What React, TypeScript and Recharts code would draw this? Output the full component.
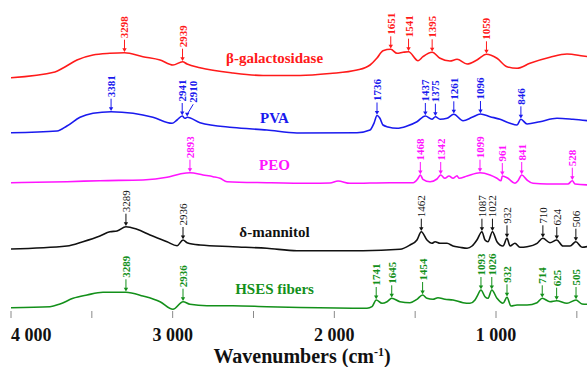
import React from 'react';
import { ComposedChart, Line, Scatter, XAxis, YAxis, ReferenceDot, Label } from 'recharts';

// Wavenumber (cm-1) / relative intensity (a.u.) pairs
const galactosidaseW = [4000, 3728, 3678, 3592, 3493, 3388, 3298, 3184, 3078, 2998, 2939, 2911, 2831, 2627, 2441, 2212, 2027, 1860, 1779, 1736, 1699, 1651, 1612, 1575, 1541, 1482, 1452, 1395, 1346, 1285, 1241, 1179, 1118, 1059, 994, 932, 870, 790, 666, 561, 462, 418];
const galactosidaseV = [233.3, 239, 243, 251, 256, 257.7, 258.3, 254.3, 251, 246, 249.3, 247, 243.3, 238, 235.5, 235.5, 237.5, 241, 246, 253, 260.3, 261.7, 257.7, 258.7, 259.3, 250.3, 254.3, 258.7, 252.7, 250, 251.7, 247, 251, 256.7, 252.7, 244.3, 242.7, 247.7, 253.7, 257, 255, 254];

const pvaW = [4000, 3715, 3654, 3573, 3493, 3381, 3245, 3122, 3004, 2973, 2941, 2924, 2910, 2831, 2627, 2417, 2231, 1860, 1779, 1755, 1736, 1718, 1699, 1668, 1612, 1550, 1489, 1437, 1396, 1375, 1346, 1303, 1261, 1204, 1148, 1096, 1037, 975, 913, 870, 846, 808, 728, 623, 524, 418];
const pvaV = [178.3, 180, 185, 193.7, 197.7, 199.3, 197.7, 193.7, 187.7, 191, 195, 192.7, 193.7, 188.3, 183.5, 181, 178, 178.3, 181, 187.7, 195.5, 192.7, 186, 184, 182.7, 185, 189.3, 195, 191.7, 194.3, 191.7, 192.7, 196.7, 190.3, 193.7, 197, 194.3, 191.7, 187.7, 186, 191.7, 187, 189.3, 192.7, 191.7, 190];

const peoW = [4000, 3654, 3450, 3184, 3035, 2955, 2893, 2812, 2750, 2707, 2664, 2417, 2151, 2027, 1977, 1903, 1656, 1513, 1482, 1468, 1452, 1408, 1365, 1342, 1316, 1291, 1266, 1241, 1229, 1179, 1099, 1037, 994, 969, 961, 926, 883, 864, 841, 808, 771, 685, 555, 528, 511, 418];
const peoV = [128.3, 129.3, 130.3, 131, 133.7, 137, 138.3, 136, 134.3, 132.7, 129.3, 128.3, 127.7, 128, 130, 127.7, 128.3, 128.3, 132.7, 136, 131.7, 129.3, 132, 136, 132.7, 135, 132.7, 135.3, 132.7, 135, 138.3, 136, 132.7, 130.3, 135, 132.7, 127.7, 130.3, 136, 131, 127.7, 127, 127, 130.3, 127, 126];

const mannitolW = [4000, 3654, 3555, 3450, 3388, 3344, 3289, 3221, 3140, 3035, 2973, 2936, 2911, 2831, 2627, 2417, 2231, 1823, 1594, 1532, 1489, 1462, 1427, 1396, 1377, 1346, 1303, 1266, 1223, 1179, 1148, 1118, 1087, 1068, 1050, 1022, 994, 957, 932, 913, 883, 852, 808, 746, 710, 666, 624, 586, 542, 506, 468, 418];
const mannitolV = [62, 65, 69.3, 75, 79.3, 80, 84.3, 81.7, 76, 69.3, 65.3, 71, 68.3, 66, 64.3, 62.7, 60.3, 60.3, 61.7, 66, 71, 79.3, 71, 67.7, 69.3, 67.7, 67.7, 65, 63.7, 62.7, 65, 71, 79.3, 71, 69.3, 79.3, 69.3, 65, 72.7, 65, 67.7, 63.7, 64.3, 67.7, 72.7, 68.3, 71, 65, 65, 69.3, 63.7, 65];

const hsesW = [4000, 3759, 3697, 3616, 3530, 3431, 3289, 3184, 3078, 2998, 2936, 2893, 2788, 2627, 2417, 2212, 1798, 1767, 1741, 1705, 1674, 1645, 1594, 1532, 1489, 1454, 1427, 1390, 1359, 1316, 1266, 1204, 1161, 1130, 1118, 1093, 1068, 1050, 1026, 994, 957, 932, 907, 870, 808, 746, 714, 666, 625, 561, 505, 468, 418];
const hsesV = [3.3, 4.3, 7, 12.7, 16, 18.7, 18.7, 15, 9.3, 1.7, 9.3, 6.7, 5.3, 5.3, 4.3, 3.5, 2.7, 4.3, 11, 7.7, 9.3, 12.7, 9.3, 8.3, 11.7, 16, 12.7, 11.7, 13.3, 11.7, 11, 8.3, 7.7, 11, 14.3, 21, 14.3, 12.7, 21, 12.7, 7.7, 13.7, 5, 6, 6, 8.3, 12.7, 9.3, 10.3, 7.7, 11, 7, 6.7];

// Annotated peaks
const galactosidasePeaks = [3298, 2939, 1651, 1541, 1395, 1059];
const pvaPeaks = [3381, 2941, 2910, 1736, 1437, 1375, 1261, 1096, 846];
const peoPeaks = [2893, 1468, 1342, 1099, 961, 841, 528];
const mannitolPeaks = [3289, 2936, 1462, 1087, 1022, 932, 710, 624, 506];
const hsesPeaks = [3289, 2936, 1741, 1645, 1454, 1093, 1026, 932, 714, 625, 505];

const seriesNames = ['β-galactosidase', 'PVA', 'PEO', 'δ-mannitol', 'HSES fibers'];
const nameLevels = [253, 193.5, 146.5, 79, 22];
const xTicks = [4000, 3500, 3000, 2500, 2000, 1500, 1000, 500];

const colors = ['#ff1a1a', '#1a1aee', '#ff14ff', '#111111', '#13901a'];
const serif = '"Liberation Serif", "Times New Roman", Times, serif';

const toPoints = (w: number[], v: number[]) => w.map((x, i) => ({ w: x, v: v[i] }));
const seriesPts = [
  toPoints(galactosidaseW, galactosidaseV),
  toPoints(pvaW, pvaV),
  toPoints(peoW, peoV),
  toPoints(mannitolW, mannitolV),
  toPoints(hsesW, hsesV),
];
const peakLists = [galactosidasePeaks, pvaPeaks, peoPeaks, mannitolPeaks, hsesPeaks];
const peakPts = peakLists.map((peaks, s) =>
  peaks.map((p) => {
    const pts = seriesPts[s];
    const hit = pts.find((q) => q.w === p) as { w: number; v: number };
    return { w: p, v: hit ? hit.v : 0, t: String(p) };
  })
);

const labelShift: Record<string, number> = { '2910': 6 };

const makePeakShape = (color: string, bold: boolean) => (props: any) => {
  const { cx, cy, payload } = props;
  if (cx == null || cy == null) return <g />;
  const dx = labelShift[payload.t] && color === colors[1] ? labelShift[payload.t] : 0;
  const top = cy - 13;
  return (
    <g>
      <line x1={cx + dx} y1={top} x2={cx} y2={cy - 3} stroke={color} strokeWidth={1} />
      <path d={`M${cx - 2.2},${cy - 4.5} L${cx + 2.2},${cy - 4.5} L${cx},${cy - 0.8} Z`} fill={color} />
      <text
        transform={`translate(${cx + dx},${top - 1.5}) rotate(-90)`}
        textAnchor="start"
        dominantBaseline="central"
        fontFamily={serif}
        fontSize={11}
        fontWeight={bold ? 'bold' : 'normal'}
        fill={color}
      >
        {payload.t}
      </text>
    </g>
  );
};

const makeNameShape = (name: string, color: string) => (props: any) => {
  const { cx, cy } = props;
  return (
    <text x={cx} y={cy} textAnchor="middle" dominantBaseline="central" fontFamily={serif} fontSize={15} fontWeight="bold" fill={color}>
      {name}
    </text>
  );
};

const XTick = (props: any) => {
  const { x, y, payload } = props;
  const val = payload.value as number;
  if (val % 1000 !== 0) return <g />;
  const txt = `${Math.round(val / 1000)} 000`;
  return (
    <text x={x} y={y + 21} textAnchor={val === 4000 ? 'start' : 'middle'} fontFamily={serif} fontSize={18} fontWeight="bold" fill="#111">
      {txt}
    </text>
  );
};

const renderTitle = () => (
  <text x={302} y={363} textAnchor="middle" fontFamily={serif} fontSize={20} fontWeight="bold" fill="#111">
    Wavenumbers (cm
    <tspan dy={-7} fontSize={12}>-1</tspan>
    <tspan dy={7}>)</tspan>
  </text>
);

export default function App() {
  return (
    <div style={{ position: 'absolute', left: 0, top: 0, width: 587, height: 367, overflow: 'hidden', background: '#fff' }}>
      <ComposedChart width={600} height={367} margin={{ top: 0, right: 7, left: 11, bottom: 0 }}>
        <XAxis
          dataKey="w"
          type="number"
          domain={[400, 4000]}
          reversed
          ticks={xTicks}
          allowDataOverflow
          axisLine={false}
          tickLine={{ stroke: '#8a8a8a', strokeWidth: 1 }}
          tickSize={7}
          tickMargin={2}
          height={56}
          tick={<XTick />}
          interval={0}
        >
          <Label content={renderTitle} />
        </XAxis>
        <YAxis type="number" dataKey="v" domain={[0, 311]} hide width={0} allowDataOverflow />
        {seriesPts.map((pts, i) => (
          <Line
            key={`l${i}`}
            data={pts}
            dataKey="v"
            type="monotone"
            stroke={colors[i]}
            strokeWidth={1.6}
            dot={false}
            activeDot={false}
            isAnimationActive={false}
          />
        ))}
        {peakPts.map((pts, i) => (
          <Scatter
            key={`p${i}`}
            data={pts}
            dataKey="v"
            shape={makePeakShape(colors[i], i !== 3)}
            isAnimationActive={false}
          />
        ))}
        {seriesNames.map((n, i) => (
          <ReferenceDot key={`n${i}`} x={2370} y={nameLevels[i]} r={0} shape={makeNameShape(n, colors[i])} />
        ))}
      </ComposedChart>
    </div>
  );
}
